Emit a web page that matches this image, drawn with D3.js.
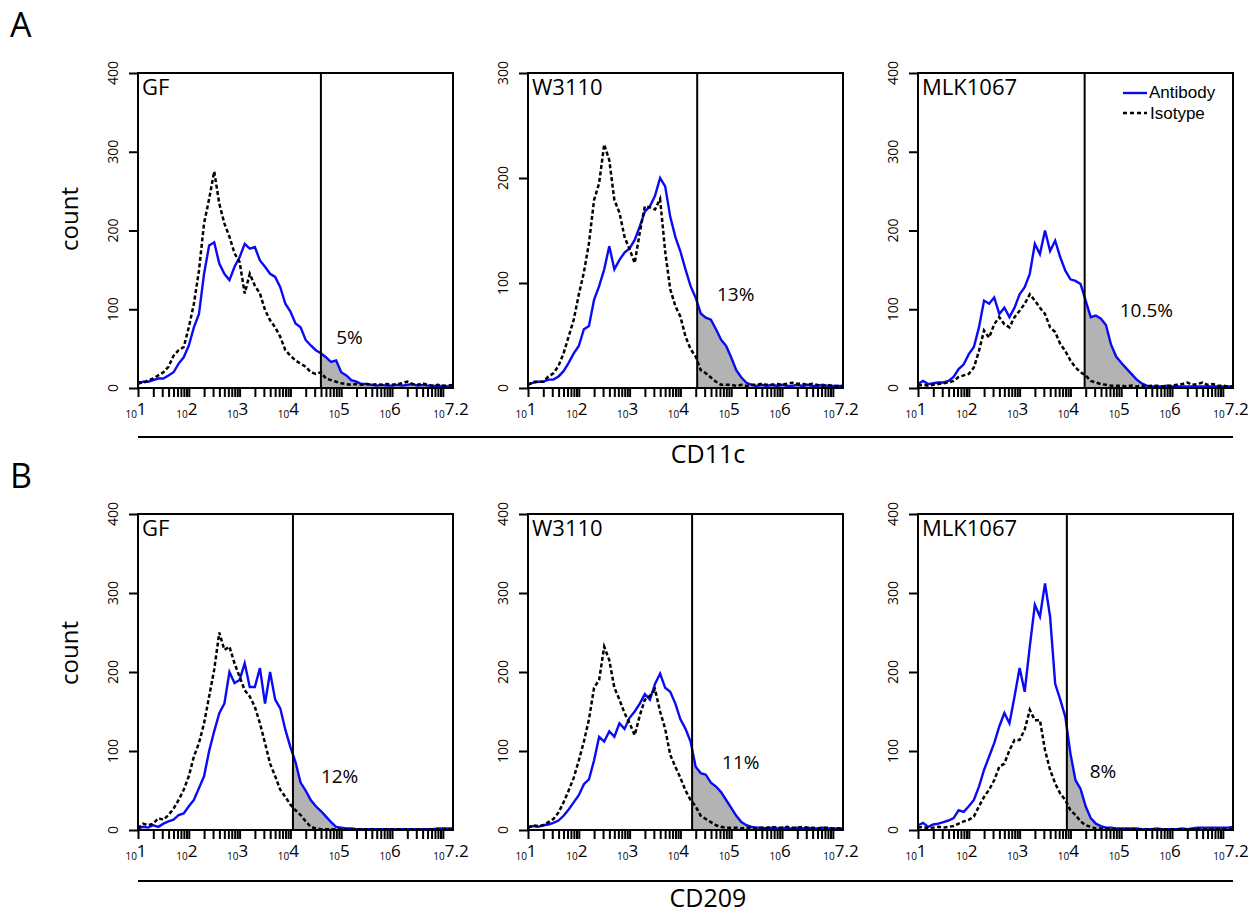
<!DOCTYPE html>
<html lang="en">
<head>
  <meta charset="UTF-8" />
  <title>CD11c / CD209 flow histograms</title>
  <style>
    body { margin: 0; background: #fff; }
    svg { display: block; font-family: "Open Sans", sans-serif; }
    .frame { fill: none; stroke: #000; stroke-width: 2px; }
    .gate-line { stroke: #000; stroke-width: 2px; }
    .gate-fill { fill: #b3b3b3; stroke: none; }
    .antibody-line { fill: none; stroke: #0a0af5; stroke-width: 2.4px; }
    .isotype-line { fill: none; stroke: #000; stroke-width: 2.5px; stroke-dasharray: 4, 2.5; }
    .axis path { display: none; }
    .axis line { stroke: #000; stroke-width: 2px; }
    .legend-text { font-family: "Liberation Sans", Arial, sans-serif; font-size: 17px; }
  </style>
</head>
<body>
<script src="https://cdn.jsdelivr.net/npm/d3@7"></script>
<script>
  // log10 of fluorescence, one bin every 0.1 decade
  var logGrid = [
    1.0, 1.1, 1.2, 1.3, 1.4, 1.5, 1.6, 1.7, 1.8, 1.9,
    2.0, 2.1, 2.2, 2.3, 2.4, 2.5, 2.6, 2.7, 2.8, 2.9,
    3.0, 3.1, 3.2, 3.3, 3.4, 3.5, 3.6, 3.7, 3.8, 3.9,
    4.0, 4.1, 4.2, 4.3, 4.4, 4.5, 4.6, 4.7, 4.8, 4.9,
    5.0, 5.1, 5.2, 5.3, 5.4, 5.5, 5.6, 5.7, 5.8, 5.9,
    6.0, 6.1, 6.2, 6.3, 6.4, 6.5, 6.6, 6.7, 6.8, 6.9,
    7.0, 7.1, 7.2
  ];

  var strains = ["GF", "W3110", "MLK1067"];
  var markers = ["CD11c", "CD209"];
  var rowLetters = ["A", "B"];
  var yMax = [[400, 300, 400], [400, 400, 400]];
  var yTicks = [[[0, 100, 200, 300, 400], [0, 100, 200, 300], [0, 100, 200, 300, 400]],
                [[0, 100, 200, 300, 400], [0, 100, 200, 300, 400], [0, 100, 200, 300, 400]]];
  var gateLog = [[4.6, 4.33, 4.28], [4.05, 4.23, 3.93]];
  var percentText = [["5%", "13%", "10.5%"], ["12%", "11%", "8%"]];
  var percentAt = [[[4.9, 56], [4.72, 83], [4.97, 90]], [[4.6, 59], [4.82, 77], [4.38, 66]]];
  var xTickExp = [1, 2, 3, 4, 5, 6, 7.2];
  var xTickLabel = ["1", "2", "3", "4", "5", "6", "7.2"];

  var cd11cGfAntibody = [
    5, 8, 8, 10, 12, 12, 16, 20, 31, 39,
    54, 77, 94, 145, 181, 185, 158, 145, 137, 154,
    166, 183, 177, 179, 162, 154, 145, 141, 128, 107,
    97, 82, 77, 61, 54, 48, 44, 39, 33, 35,
    20, 16, 10, 8, 5, 5, 4, 3, 4, 3,
    3, 4, 3, 4, 5, 3, 4, 3, 3, 2,
    3, 2, 2
  ];
  var cd11cGfIsotype = [
    8, 6, 10, 12, 16, 20, 27, 41, 48, 52,
    77, 107, 149, 209, 240, 275, 234, 209, 192, 171,
    160, 120, 145, 130, 120, 99, 86, 77, 65, 48,
    41, 35, 31, 27, 20, 18, 20, 12, 10, 8,
    6, 5, 4, 5, 4, 5, 4, 5, 4, 5,
    4, 5, 6, 8, 5, 4, 6, 4, 3, 4,
    3, 3, 4
  ];
  var cd11cW3110Antibody = [
    3, 5, 6, 6, 8, 8, 11, 16, 24, 33,
    40, 56, 59, 84, 97, 113, 135, 113, 122, 129,
    133, 141, 154, 168, 173, 183, 200, 192, 163, 144,
    130, 113, 97, 86, 71, 67, 65, 56, 46, 40,
    29, 17, 10, 5, 3, 2, 3, 2, 3, 2,
    3, 2, 2, 3, 2, 3, 2, 2, 3, 2,
    2, 2, 2
  ];
  var cd11cW3110Isotype = [
    3, 6, 6, 6, 11, 14, 21, 33, 49, 65,
    89, 110, 138, 179, 195, 232, 217, 179, 167, 144,
    132, 119, 148, 173, 172, 170, 180, 130, 94, 78,
    68, 49, 37, 30, 17, 14, 10, 6, 3, 3,
    3, 2, 3, 2, 3, 3, 4, 3, 3, 4,
    3, 4, 5, 4, 4, 3, 4, 3, 2, 3,
    2, 2, 2
  ];
  var cd11cMlkAntibody = [
    5, 9, 5, 6, 7, 7, 9, 14, 24, 30,
    43, 52, 77, 111, 107, 115, 94, 102, 90, 102,
    119, 128, 145, 183, 170, 200, 174, 187, 166, 149,
    138, 136, 132, 111, 90, 92, 88, 80, 55, 40,
    32, 25, 18, 11, 6, 3, 2, 2, 2, 3,
    2, 2, 2, 2, 2, 2, 2, 2, 2, 2,
    2, 2, 2
  ];
  var cd11cMlkIsotype = [
    3, 4, 3, 4, 5, 6, 7, 9, 14, 16,
    18, 26, 47, 73, 64, 81, 90, 81, 77, 90,
    98, 107, 119, 111, 102, 94, 77, 71, 56, 47,
    35, 26, 20, 16, 9, 7, 5, 4, 3, 3,
    3, 2, 3, 2, 3, 2, 3, 3, 2, 3,
    3, 4, 5, 7, 4, 5, 7, 4, 5, 3,
    3, 2, 2
  ];
  var cd209GfAntibody = [
    2, 4, 3, 6, 4, 8, 11, 13, 19, 21,
    30, 38, 53, 68, 100, 125, 148, 160, 200, 186,
    190, 211, 181, 181, 205, 160, 200, 165, 154, 127,
    105, 86, 60, 50, 38, 30, 24, 17, 10, 4,
    3, 2, 2, 1, 1, 1, 1, 1, 1, 1,
    1, 1, 1, 1, 1, 1, 1, 1, 1, 2,
    2, 2, 2
  ];
  var cd209GfIsotype = [
    2, 8, 6, 8, 15, 13, 19, 27, 38, 51,
    68, 93, 110, 135, 169, 203, 250, 228, 232, 211,
    194, 177, 169, 156, 135, 110, 84, 68, 51, 42,
    32, 25, 19, 11, 4, 2, 1, 1, 1, 1,
    1, 1, 1, 1, 1, 1, 1, 1, 1, 1,
    1, 1, 1, 1, 1, 1, 1, 1, 1, 1,
    1, 1, 1
  ];
  var cd209W3110Antibody = [
    3, 5, 4, 6, 7, 9, 12, 18, 26, 35,
    44, 58, 64, 88, 118, 112, 125, 118, 135, 128,
    142, 150, 160, 172, 165, 185, 198, 180, 175, 160,
    140, 128, 112, 80, 72, 70, 60, 55, 48, 38,
    28, 18, 10, 6, 4, 3, 3, 2, 3, 2,
    3, 2, 2, 3, 2, 3, 2, 2, 3, 2,
    2, 2, 2
  ];
  var cd209W3110Isotype = [
    3, 6, 5, 6, 10, 14, 22, 35, 50, 66,
    88, 112, 140, 180, 190, 232, 215, 180, 165, 148,
    135, 120, 145, 165, 170, 178, 150, 128, 95, 80,
    66, 50, 38, 30, 18, 14, 10, 6, 4, 3,
    3, 3, 2, 3, 3, 2, 3, 3, 4, 3,
    3, 4, 3, 3, 4, 3, 3, 2, 3, 3,
    2, 2, 2
  ];
  var cd209MlkAntibody = [
    6, 9, 4, 7, 8, 10, 12, 15, 25, 23,
    30, 38, 55, 76, 93, 110, 131, 148, 135, 169,
    205, 175, 232, 285, 270, 312, 270, 185, 165, 143,
    97, 63, 52, 30, 15, 8, 5, 3, 3, 2,
    2, 2, 2, 2, 1, 1, 1, 2, 1, 1,
    1, 1, 2, 1, 2, 3, 3, 3, 3, 3,
    3, 3, 4
  ];
  var cd209MlkIsotype = [
    3, 4, 2, 3, 4, 3, 4, 5, 8, 11,
    13, 17, 30, 42, 51, 63, 80, 84, 101, 114,
    114, 127, 152, 139, 139, 101, 76, 59, 46, 38,
    25, 19, 11, 6, 4, 2, 2, 2, 1, 1,
    1, 1, 1, 1, 1, 1, 1, 1, 1, 1,
    1, 1, 1, 1, 1, 1, 1, 1, 1, 1,
    1, 1, 1
  ];

  var antibody = [[cd11cGfAntibody, cd11cW3110Antibody, cd11cMlkAntibody],
                  [cd209GfAntibody, cd209W3110Antibody, cd209MlkAntibody]];
  var isotype = [[cd11cGfIsotype, cd11cW3110Isotype, cd11cMlkIsotype],
                 [cd209GfIsotype, cd209W3110Isotype, cd209MlkIsotype]];

  var w = 1254;
  var h = 915;
  var panelX = [138, 528, 918];
  var panelY = [73, 514];
  var panelW = 315;
  var panelH = [315, 316];

  var svg = d3.select("body").append("svg")
    .attr("width", w)
    .attr("height", h);

  svg.append("rect").attr("width", w).attr("height", h).attr("fill", "#fff");

  function drawPanel(row, col) {
    var ph = panelH[row];
    var g = svg.append("g")
      .attr("transform", "translate(" + panelX[col] + "," + panelY[row] + ")");

    var xScale = d3.scaleLog()
      .domain([1e1, Math.pow(10, 7.2)])
      .range([0, panelW]);
    var yScale = d3.scaleLinear()
      .domain([0, yMax[row][col]])
      .range([ph, 0]);

    var toPoints = function(vals) {
      return vals.map(function(v, i) { return [logGrid[i], v]; });
    };
    var line = d3.line()
      .x(function(d) { return xScale(Math.pow(10, d[0])); })
      .y(function(d) { return yScale(d[1]); });
    var area = d3.area()
      .x(function(d) { return xScale(Math.pow(10, d[0])); })
      .y0(ph)
      .y1(function(d) { return yScale(d[1]); });

    var gx = xScale(Math.pow(10, gateLog[row][col]));
    var clipId = "gate-clip-" + row + "-" + col;
    g.append("clipPath").attr("id", clipId)
      .append("rect")
      .attr("x", gx).attr("y", 0)
      .attr("width", panelW - gx).attr("height", ph);

    g.append("path")
      .datum(toPoints(antibody[row][col]))
      .attr("class", "gate-fill")
      .attr("clip-path", "url(#" + clipId + ")")
      .attr("d", area);

    g.append("path")
      .datum(toPoints(antibody[row][col]))
      .attr("class", "antibody-line")
      .attr("d", line);

    g.append("path")
      .datum(toPoints(isotype[row][col]))
      .attr("class", "isotype-line")
      .attr("d", line);

    g.append("line")
      .attr("class", "gate-line")
      .attr("x1", gx).attr("x2", gx)
      .attr("y1", 0).attr("y2", ph);

    g.append("rect")
      .attr("class", "frame")
      .attr("width", panelW)
      .attr("height", ph);

    // axes: ticks only, box is drawn above
    g.append("g")
      .attr("class", "axis")
      .attr("transform", "translate(0," + ph + ")")
      .call(d3.axisBottom(xScale).tickValues(xScale.ticks()).tickFormat("").tickSize(9).tickSizeOuter(0));

    g.append("g")
      .attr("class", "axis")
      .call(d3.axisLeft(yScale).tickValues(yTicks[row][col]).tickFormat("").tickSize(9).tickSizeOuter(0));

    yTicks[row][col].forEach(function(t) {
      g.append("text")
        .attr("transform", "translate(-20," + yScale(t) + ") rotate(-90)")
        .attr("text-anchor", "middle")
        .attr("font-size", 14)
        .text(t);
    });

    xTickExp.forEach(function(e, i) {
      var lab = g.append("text")
        .attr("x", xScale(Math.pow(10, e)) - 2)
        .attr("y", ph + 30)
        .attr("text-anchor", "middle");
      lab.append("tspan").attr("font-size", 10).text("10");
      lab.append("tspan").attr("font-size", 17).attr("dy", -3).text(xTickLabel[i]);
    });

    g.append("text")
      .attr("x", 4)
      .attr("y", 22)
      .attr("font-size", 22)
      .text(strains[col]);

    g.append("text")
      .attr("x", xScale(Math.pow(10, percentAt[row][col][0])))
      .attr("y", yScale(percentAt[row][col][1]))
      .attr("font-size", 19)
      .text(percentText[row][col]);
  }

  for (var r = 0; r < 2; r++) {
    for (var c = 0; c < 3; c++) {
      drawPanel(r, c);
    }
  }

  var letterY = [37, 488];
  var countY = [219, 653];
  var markerLineY = [437, 881];
  var markerTextY = [463, 907];

  for (var k = 0; k < 2; k++) {
    svg.append("text")
      .attr("x", 10)
      .attr("y", letterY[k])
      .attr("font-size", 34)
      .text(rowLetters[k]);

    svg.append("text")
      .attr("transform", "translate(78," + countY[k] + ") rotate(-90)")
      .attr("text-anchor", "middle")
      .attr("font-size", 24)
      .text("count");

    svg.append("line")
      .attr("x1", panelX[0]).attr("x2", panelX[2] + panelW)
      .attr("y1", markerLineY[k]).attr("y2", markerLineY[k])
      .attr("stroke", "#000")
      .attr("stroke-width", 2);

    svg.append("text")
      .attr("x", 708)
      .attr("y", markerTextY[k])
      .attr("text-anchor", "middle")
      .attr("font-size", 25)
      .text(markers[k]);
  }

  // legend inside the top-right panel
  svg.append("line")
    .attr("class", "antibody-line")
    .attr("x1", 1123).attr("x2", 1147)
    .attr("y1", 93).attr("y2", 93);
  svg.append("line")
    .attr("stroke", "#000")
    .attr("stroke-width", 2.5)
    .attr("stroke-dasharray", "4,3")
    .attr("x1", 1123).attr("x2", 1147)
    .attr("y1", 113).attr("y2", 113);
  svg.append("text")
    .attr("class", "legend-text")
    .attr("x", 1149).attr("y", 98)
    .text("Antibody");
  svg.append("text")
    .attr("class", "legend-text")
    .attr("x", 1150).attr("y", 119)
    .text("Isotype");
</script>
</body>
</html>
